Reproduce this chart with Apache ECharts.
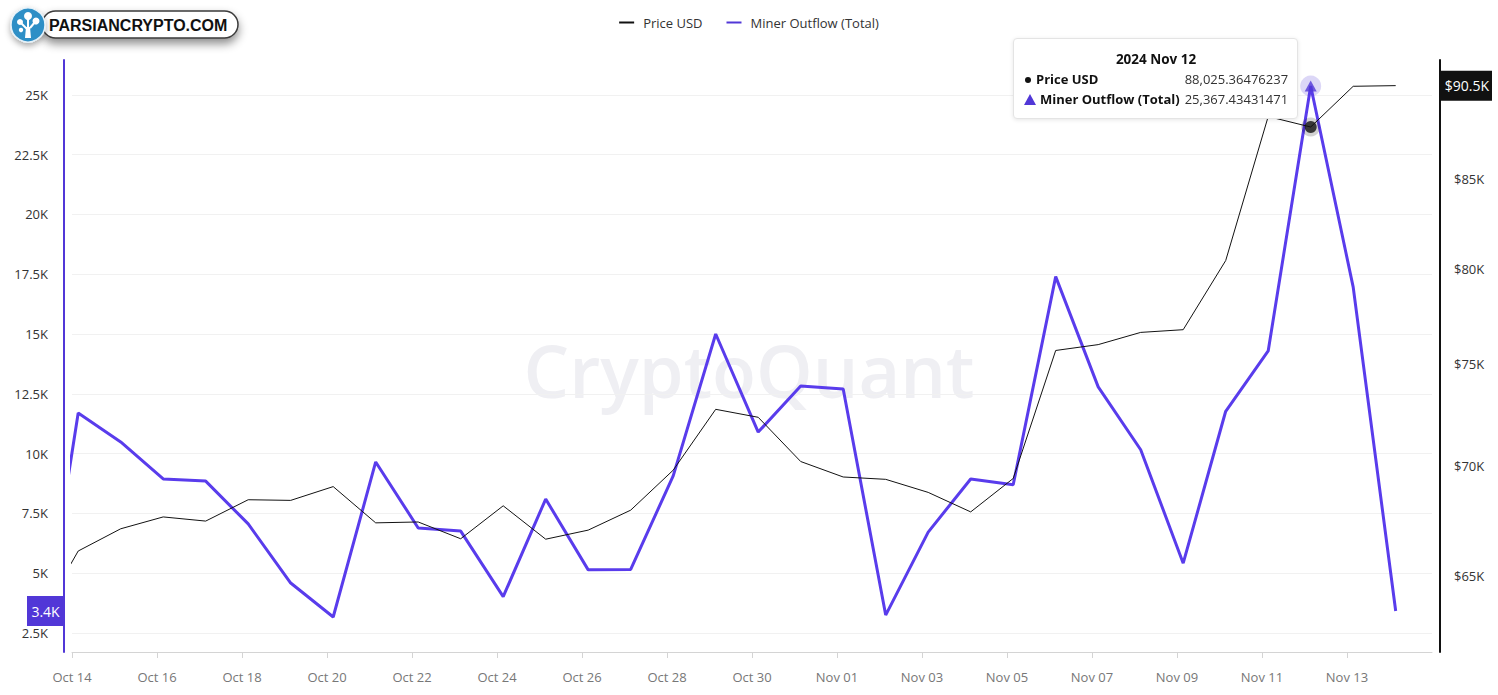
<!DOCTYPE html>
<html>
<head>
<meta charset="utf-8">
<script src="https://cdn.jsdelivr.net/npm/echarts@6/dist/echarts.min.js"></script>
<style>
html,body{margin:0;padding:0;background:#fff;}
#c{width:1498px;height:695px;}
</style>
</head>
<body>
<div id="c"></div>
<script>
// ---------- DATA ----------
const dates = [
  '2024-10-13','2024-10-14','2024-10-15','2024-10-16','2024-10-17','2024-10-18','2024-10-19',
  '2024-10-20','2024-10-21','2024-10-22','2024-10-23','2024-10-24','2024-10-25','2024-10-26',
  '2024-10-27','2024-10-28','2024-10-29','2024-10-30','2024-10-31','2024-11-01','2024-11-02',
  '2024-11-03','2024-11-04','2024-11-05','2024-11-06','2024-11-07','2024-11-08','2024-11-09',
  '2024-11-10','2024-11-11','2024-11-12','2024-11-13','2024-11-14'
];
const priceUSD = [
  62850, 66100, 67100, 67640, 67450, 68430, 68400,
  69040, 67370, 67410, 66650, 68150, 66630, 67040,
  67950, 69810, 72740, 72350, 70220, 69490, 69380,
  68770, 67870, 69420, 75690, 75990, 76620, 76760,
  80430, 88650, 88025.36476237, 90480, 90520
];
const minerOutflow = [
  300, 11700, 10490, 8940, 8850, 7060, 4590,
  3170, 9650, 6890, 6760, 4020, 8100, 5140,
  5160, 9070, 15000, 10900, 12830, 12700, 3250,
  6720, 8940, 8700, 17400, 12790, 10160, 5420,
  11770, 14290, 25367.43431471, 16960, 3420
];
const tickLabels = ['Oct 14','Oct 16','Oct 18','Oct 20','Oct 22','Oct 24','Oct 26','Oct 28',
  'Oct 30','Nov 01','Nov 03','Nov 05','Nov 07','Nov 09','Nov 11','Nov 13'];
const leftTicks = [2500,5000,7500,10000,12500,15000,17500,20000,22500,25000];
const rightTicks = [65000,70000,75000,80000,85000];
const focusDate = '2024-11-12';

// ---------- SETUP ----------
const MONTHS = ['Jan','Feb','Mar','Apr','May','Jun','Jul','Aug','Sep','Oct','Nov','Dec'];
const HOUR_SHIFT = 3.5 / 24;          // points sit at 03:30 local time
const xOf = k => k - 1 + HOUR_SHIFT;   // day index relative to Oct 14
const PURPLE = '#5137d7';
const FONT = "'Open Sans', 'Noto Sans', sans-serif";

const priceData = priceUSD.map((v, k) => [xOf(k), v]);
const outflowData = minerOutflow.map((v, k) => [xOf(k), v]);
const fi = dates.indexOf(focusDate);

function kFmt(v){ return (v/1000).toString() + 'K'; }
function fmtNum(v){ return v.toLocaleString('en-US',{maximumFractionDigits:8}); }
function fmtDate(s){ const p = s.split('-'); return p[0] + ' ' + MONTHS[+p[1]-1] + ' ' + (+p[2]); }

const chart = echarts.init(document.getElementById('c'), null, {renderer:'svg'});

const option = {
  animation: false,
  backgroundColor: '#fff',
  textStyle: { fontFamily: FONT },
  grid: { left: 72, right: 66, top: 60, bottom: 43, containLabel: false },
  legend: {
    top: 11, left: 'center', itemGap: 24, itemWidth: 15, itemHeight: 2,
    icon: 'rect',
    textStyle: { color: '#333', fontSize: 13, fontFamily: FONT, padding: [0, 0, 0, 4] },
    data: ['Price USD', 'Miner Outflow (Total)']
  },
  tooltip: {
    trigger: 'axis',
    triggerOn: 'none',
    alwaysShowContent: true,
    transitionDuration: 0,
    axisPointer: { type: 'none' },
    position: [1013, 38],
    backgroundColor: '#fff',
    borderColor: '#e4e4e4',
    borderWidth: 1,
    padding: [10, 9, 9, 10],
    extraCssText: 'box-shadow:0 1px 4px rgba(0,0,0,0.10);border-radius:4px;',
    formatter: function(params){
      const p = params.find(q => q.seriesName === 'Price USD');
      const k = p ? p.dataIndex : fi;
      const row = (icon, name, val) =>
        '<tr><td style="padding:0;white-space:nowrap;font-weight:700;color:#111;">' + icon + name + '</td>' +
        '<td style="padding:0 0 0 5px;text-align:right;color:#333;white-space:nowrap;">' + val + '</td></tr>';
      return '<div style="font-family:' + FONT.replace(/'/g,'&quot;') + ';font-size:13px;line-height:20px;">' +
        '<div style="text-align:center;font-weight:700;color:#111;font-size:13.5px;">' + fmtDate(dates[k]) + '</div>' +
        '<table style="border-collapse:collapse;">' +
        row('<span style="display:inline-block;width:6px;height:6px;border-radius:3px;background:#111;margin:0 5px 2px 1px;vertical-align:middle;"></span>', 'Price USD', fmtNum(priceUSD[k])) +
        row('<span style="display:inline-block;width:0;height:0;border-left:6px solid transparent;border-right:6px solid transparent;border-bottom:11px solid ' + PURPLE + ';margin:0 4px 3px 0;vertical-align:middle;"></span>', 'Miner Outflow (Total)', fmtNum(minerOutflow[k])) +
        '</table></div>';
    }
  },
  xAxis: {
    type: 'value',
    min: 0, max: 32, interval: 2,
    axisLine: { show: true, lineStyle: { color: '#d4d4d4', width: 1 } },
    axisTick: { show: true, length: 6, lineStyle: { color: '#d4d4d4' } },
    axisLabel: {
      color: '#777', fontSize: 13, margin: 18, fontFamily: FONT,
      showMaxLabel: false,
      formatter: v => tickLabels[Math.round(v/2)] || ''
    },
    splitLine: { show: false }
  },
  yAxis: [
    {
      type: 'value', position: 'left', offset: 8,
      min: 1706, max: 26455,
      axisLine: { show: true, onZero: false, lineStyle: { color: PURPLE, width: 2 } },
      axisTick: { show: false, customValues: leftTicks },
      axisLabel: { color: '#333', fontSize: 13, margin: 16, fontFamily: FONT, customValues: leftTicks, formatter: v => kFmt(v) },
      splitLine: { show: true, lineStyle: { color: '#f1f1f1', width: 1 } }
    },
    {
      type: 'log', logBase: 10, position: 'right', offset: 8,
      min: 61741, max: 92101,
      axisLine: { show: true, onZero: false, lineStyle: { color: '#111', width: 2 } },
      axisTick: { show: false, customValues: rightTicks },
      axisLabel: { color: '#333', fontSize: 13, margin: 14, fontFamily: FONT, customValues: rightTicks, formatter: v => '$' + Math.round(v/1000) + 'K' },
      splitLine: { show: false }
    }
  ],
  series: [
    {
      name: 'Price USD', type: 'line', yAxisIndex: 1, data: priceData,
      symbol: 'none', color: '#111', z: 4,
      lineStyle: { color: '#111', width: 1 }
    },
    {
      name: 'Miner Outflow (Total)', type: 'line', yAxisIndex: 0, data: outflowData,
      symbol: 'none', color: PURPLE, z: 3,
      lineStyle: { color: PURPLE, width: 3 }
    },
    {
      name: 'outflowHalo', type: 'scatter', yAxisIndex: 0, silent: true, z: 5,
      data: [outflowData[fi]], symbol: 'circle', symbolSize: 21,
      itemStyle: { color: 'rgba(81,55,215,0.25)' }, tooltip: { show: false }
    },
    {
      name: 'outflowMark', type: 'scatter', yAxisIndex: 0, silent: true, z: 6,
      data: [outflowData[fi]], symbol: 'triangle', symbolSize: [12, 11],
      itemStyle: { color: PURPLE }, tooltip: { show: false }
    },
    {
      name: 'priceHalo', type: 'scatter', yAxisIndex: 1, silent: true, z: 5,
      data: [priceData[fi]], symbol: 'circle', symbolSize: 19,
      itemStyle: { color: 'rgba(0,0,0,0.22)' }, tooltip: { show: false }
    },
    {
      name: 'priceMark', type: 'scatter', yAxisIndex: 1, silent: true, z: 6,
      data: [priceData[fi]], symbol: 'circle', symbolSize: 12,
      itemStyle: { color: '#111' }, tooltip: { show: false }
    }
  ]
};
chart.setOption(option);

// ---------- GRAPHICS: watermark, logo, last-value tags ----------
const lastK = dates.length - 1;
const yL = chart.convertToPixel({ yAxisIndex: 0 }, minerOutflow[lastK]);
const yR = chart.convertToPixel({ yAxisIndex: 1 }, priceUSD[lastK]);
const axL = 72 - 8, axR = 1498 - 66 + 8;

chart.setOption({
  graphic: [
    {
      type: 'text', left: 'center', top: 334, z: -10, silent: true,
      style: { text: 'CryptoQuant', fill: '#efeff3', font: "600 72px 'Open Sans', sans-serif" }
    },
    // logo
    {
      type: 'rect', z: 100, silent: true,
      shape: { x: 42, y: 11, width: 196, height: 27, r: 13.5 },
      style: { fill: '#fff', stroke: '#3a3a3a', lineWidth: 1.5, shadowBlur: 10, shadowOffsetY: 5, shadowColor: 'rgba(0,0,0,0.45)' }
    },
    {
      type: 'circle', z: 101, silent: true,
      shape: { cx: 28, cy: 25, r: 17 },
      style: { fill: '#2f8fc6', stroke: '#e6f2f9', lineWidth: 1.5, shadowBlur: 6, shadowOffsetY: 3, shadowColor: 'rgba(0,0,0,0.35)' }
    },
    { type: 'polygon', z: 102, silent: true, shape: { points: [[25,38],[31,38],[30,27],[26,27]] }, style: { fill: '#fff' } },
    { type: 'circle', z: 102, silent: true, shape: { cx: 28, cy: 16, r: 4 }, style: { fill: '#fff' } },
    { type: 'circle', z: 102, silent: true, shape: { cx: 20, cy: 22, r: 3 }, style: { fill: '#fff' } },
    { type: 'circle', z: 102, silent: true, shape: { cx: 36, cy: 21, r: 3.5 }, style: { fill: '#fff' } },
    { type: 'circle', z: 102, silent: true, shape: { cx: 21, cy: 30, r: 2.2 }, style: { fill: '#fff' } },
    { type: 'polyline', z: 102, silent: true, shape: { points: [[28,20],[28,28]] }, style: { stroke: '#fff', lineWidth: 2 } },
    { type: 'polyline', z: 102, silent: true, shape: { points: [[21,23],[27,29]] }, style: { stroke: '#fff', lineWidth: 2 } },
    { type: 'polyline', z: 102, silent: true, shape: { points: [[35,22],[30,28]] }, style: { stroke: '#fff', lineWidth: 2 } },
    {
      type: 'text', z: 103, silent: true, x: 49, y: 25,
      style: { text: 'PARSIANCRYPTO.COM', fill: '#111', font: "bold 16px 'Liberation Sans', Arial, sans-serif", verticalAlign: 'middle' }
    },
    // last value tags
    {
      type: 'rect', z: 110, silent: true,
      shape: { x: 27, y: yL - 15, width: axL - 27 + 1, height: 30 },
      style: { fill: PURPLE }
    },
    {
      type: 'text', z: 111, silent: true, x: (27 + axL) / 2, y: yL,
      style: { text: (minerOutflow[lastK]/1000).toFixed(1) + 'K', fill: '#fff', font: "14px 'Open Sans', sans-serif", align: 'center', verticalAlign: 'middle' }
    },
    {
      type: 'rect', z: 110, silent: true,
      shape: { x: axR, y: yR - 15, width: 52, height: 30 },
      style: { fill: '#111' }
    },
    {
      type: 'text', z: 111, silent: true, x: axR + 27, y: yR,
      style: { text: '$' + (priceUSD[lastK]/1000).toFixed(1) + 'K', fill: '#fff', font: "14px 'Open Sans', sans-serif", align: 'center', verticalAlign: 'middle' }
    }
  ]
});

chart.dispatchAction({ type: 'showTip', seriesIndex: 0, dataIndex: fi });
</script>
</body>
</html>
